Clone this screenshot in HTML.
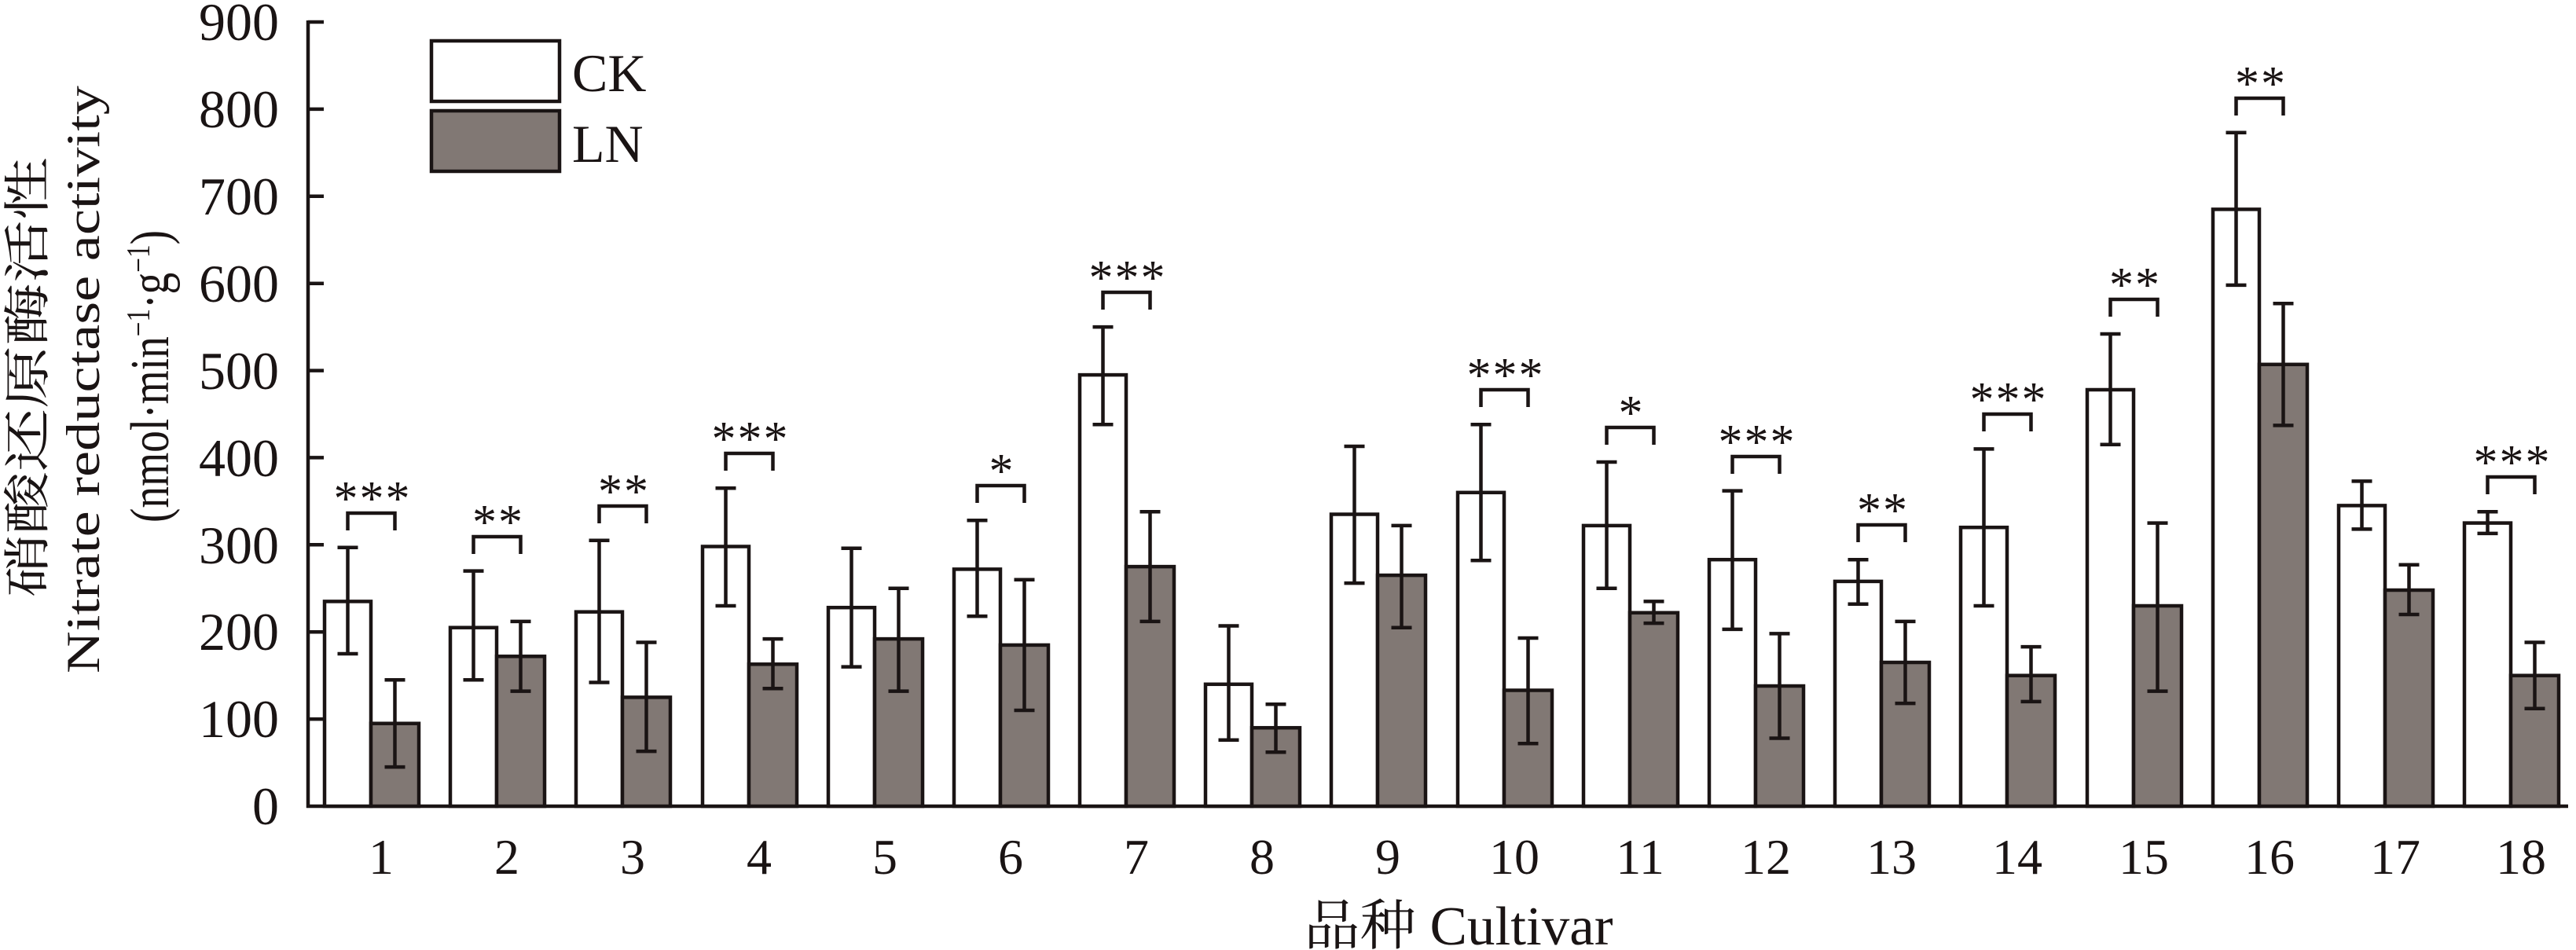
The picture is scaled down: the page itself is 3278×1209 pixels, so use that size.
<!DOCTYPE html>
<html><head><meta charset="utf-8"><style>html,body{margin:0;padding:0;background:#fff}svg{display:block}</style></head>
<body>
<svg width="3278" height="1209" viewBox="0 0 3278 1209" xmlns="http://www.w3.org/2000/svg" font-family="'Liberation Serif','Noto Serif CJK SC',serif">
<g stroke="#1a1414" stroke-width="4.5" fill="none">
<line x1="392" y1="26" x2="392" y2="1028"/>
<line x1="390" y1="1026" x2="3268" y2="1026"/>
<line x1="392" y1="28" x2="412" y2="28"/><line x1="392" y1="138.9" x2="412" y2="138.9"/><line x1="392" y1="249.8" x2="412" y2="249.8"/><line x1="392" y1="360.7" x2="412" y2="360.7"/><line x1="392" y1="471.6" x2="412" y2="471.6"/><line x1="392" y1="582.4" x2="412" y2="582.4"/><line x1="392" y1="693.3" x2="412" y2="693.3"/><line x1="392" y1="804.2" x2="412" y2="804.2"/><line x1="392" y1="915.1" x2="412" y2="915.1"/>
<rect x="549" y="52" width="163" height="77" fill="#fff"/>
<rect x="549" y="141" width="163" height="77" fill="#817874"/>
</g>
<g fill="#1a1414" font-size="68" text-anchor="end">
<text x="355" y="51">900</text><text x="355" y="162">800</text><text x="355" y="273">700</text><text x="355" y="384">600</text><text x="355" y="495">500</text><text x="355" y="606">400</text><text x="355" y="717">300</text><text x="355" y="827">200</text><text x="355" y="938">100</text><text x="355" y="1049">0</text>
</g>
<g fill="#1a1414" font-size="68">
<text x="728" y="116">CK</text><text x="728" y="206">LN</text>
</g>
<g fill="#1a1414" font-size="60" text-anchor="middle">
<text transform="translate(56,480) rotate(-90)" textLength="560" lengthAdjust="spacingAndGlyphs">硝酸还原酶活性</text>
<text transform="translate(126,483) rotate(-90)" textLength="748" lengthAdjust="spacingAndGlyphs">Nitrate reductase activity</text>
<text transform="translate(214,479) rotate(-90)" font-size="70" textLength="372" lengthAdjust="spacingAndGlyphs">(nmol·min<tspan font-size="42" dy="-24">−1</tspan><tspan dy="24">·g</tspan><tspan font-size="42" dy="-24">−1</tspan><tspan dy="24">)</tspan></text>
</g>
<text x="1856" y="1202" font-size="70" text-anchor="middle" fill="#1a1414" textLength="393" lengthAdjust="spacingAndGlyphs">品种 Cultivar</text>
<g fill="#1a1414" font-size="64" text-anchor="middle">
<text x="485" y="1112">1</text><text x="645" y="1112">2</text><text x="805" y="1112">3</text><text x="966" y="1112">4</text><text x="1126" y="1112">5</text><text x="1286" y="1112">6</text><text x="1446" y="1112">7</text><text x="1606" y="1112">8</text><text x="1766" y="1112">9</text><text x="1927" y="1112">10</text><text x="2087" y="1112">11</text><text x="2247" y="1112">12</text><text x="2407" y="1112">13</text><text x="2567" y="1112">14</text><text x="2728" y="1112">15</text><text x="2888" y="1112">16</text><text x="3048" y="1112">17</text><text x="3208" y="1112">18</text>
</g>
<g stroke="#1a1414" stroke-width="4.5">
<g fill="#fff">
<rect x="413" y="765.4" width="59" height="260.6"/>
<rect x="573" y="798.7" width="59" height="227.3"/>
<rect x="733" y="778.7" width="59" height="247.3"/>
<rect x="894" y="695.5" width="59" height="330.5"/>
<rect x="1054" y="773.2" width="59" height="252.8"/>
<rect x="1214" y="724.4" width="59" height="301.6"/>
<rect x="1374" y="477.1" width="59" height="548.9"/>
<rect x="1534" y="870.8" width="59" height="155.2"/>
<rect x="1694" y="654.5" width="59" height="371.5"/>
<rect x="1855" y="626.8" width="59" height="399.2"/>
<rect x="2015" y="668.9" width="59" height="357.1"/>
<rect x="2175" y="712.2" width="59" height="313.8"/>
<rect x="2335" y="739.9" width="59" height="286.1"/>
<rect x="2495" y="671.2" width="59" height="354.8"/>
<rect x="2656" y="496" width="59" height="530"/>
<rect x="2816" y="266.4" width="59" height="759.6"/>
<rect x="2976" y="643.4" width="59" height="382.6"/>
<rect x="3136" y="665.6" width="59" height="360.4"/>
</g>
<g fill="#817874">
<rect x="472" y="920.7" width="61" height="105.3"/>
<rect x="632" y="835.3" width="61" height="190.7"/>
<rect x="792" y="887.4" width="61" height="138.6"/>
<rect x="953" y="845.3" width="61" height="180.7"/>
<rect x="1113" y="813.1" width="61" height="212.9"/>
<rect x="1273" y="820.9" width="61" height="205.1"/>
<rect x="1433" y="721.1" width="61" height="304.9"/>
<rect x="1593" y="926.2" width="61" height="99.8"/>
<rect x="1753" y="732.1" width="61" height="293.9"/>
<rect x="1914" y="878.5" width="61" height="147.5"/>
<rect x="2074" y="779.8" width="61" height="246.2"/>
<rect x="2234" y="873" width="61" height="153"/>
<rect x="2394" y="843" width="61" height="183"/>
<rect x="2554" y="859.7" width="61" height="166.3"/>
<rect x="2715" y="771" width="61" height="255"/>
<rect x="2875" y="463.8" width="61" height="562.2"/>
<rect x="3035" y="751" width="61" height="275"/>
<rect x="3195" y="859.7" width="61" height="166.3"/>
</g>
</g>
<g stroke="#1a1414" stroke-width="4.5" fill="none">
<path d="M442.5 832V696.7M429.5 832h26M429.5 696.7h26 M502.5 976.1V865.2M489.5 976.1h26M489.5 865.2h26"/>
<path d="M602.5 865.2V726.6M589.5 865.2h26M589.5 726.6h26 M662.5 879.6V790.9M649.5 879.6h26M649.5 790.9h26"/>
<path d="M762.5 868.5V687.8M749.5 868.5h26M749.5 687.8h26 M822.5 956.1V817.5M809.5 956.1h26M809.5 817.5h26"/>
<path d="M923.5 771V621.3M910.5 771h26M910.5 621.3h26 M983.5 876.3V813.1M970.5 876.3h26M970.5 813.1h26"/>
<path d="M1083.5 848.6V697.8M1070.5 848.6h26M1070.5 697.8h26 M1143.5 879.6V748.8M1130.5 879.6h26M1130.5 748.8h26"/>
<path d="M1243.5 784.3V662.3M1230.5 784.3h26M1230.5 662.3h26 M1303.5 904V737.7M1290.5 904h26M1290.5 737.7h26"/>
<path d="M1403.5 540.3V416.1M1390.5 540.3h26M1390.5 416.1h26 M1463.5 790.9V651.2M1450.5 790.9h26M1450.5 651.2h26"/>
<path d="M1563.5 941.7V796.5M1550.5 941.7h26M1550.5 796.5h26 M1623.5 957.2V896.3M1610.5 957.2h26M1610.5 896.3h26"/>
<path d="M1723.5 742.1V568M1710.5 742.1h26M1710.5 568h26 M1783.5 798.7V668.9M1770.5 798.7h26M1770.5 668.9h26"/>
<path d="M1884.5 713.3V540.3M1871.5 713.3h26M1871.5 540.3h26 M1944.5 946.2V812M1931.5 946.2h26M1931.5 812h26"/>
<path d="M2044.5 748.8V588M2031.5 748.8h26M2031.5 588h26 M2104.5 793.1V765.4M2091.5 793.1h26M2091.5 765.4h26"/>
<path d="M2204.5 800.9V624.6M2191.5 800.9h26M2191.5 624.6h26 M2264.5 939.5V806.4M2251.5 939.5h26M2251.5 806.4h26"/>
<path d="M2364.5 768.7V712.2M2351.5 768.7h26M2351.5 712.2h26 M2424.5 895.1V790.9M2411.5 895.1h26M2411.5 790.9h26"/>
<path d="M2524.5 771V571.4M2511.5 771h26M2511.5 571.4h26 M2584.5 892.9V823.1M2571.5 892.9h26M2571.5 823.1h26"/>
<path d="M2685.5 565.8V425M2672.5 565.8h26M2672.5 425h26 M2745.5 879.6V665.6M2732.5 879.6h26M2732.5 665.6h26"/>
<path d="M2845.5 362.9V168.8M2832.5 362.9h26M2832.5 168.8h26 M2905.5 541.4V386.2M2892.5 541.4h26M2892.5 386.2h26"/>
<path d="M3005.5 673.4V612.4M2992.5 673.4h26M2992.5 612.4h26 M3065.5 782V718.8M3052.5 782h26M3052.5 718.8h26"/>
<path d="M3165.5 678.9V651.2M3152.5 678.9h26M3152.5 651.2h26 M3225.5 901.8V817.5M3212.5 901.8h26M3212.5 817.5h26"/>
<path d="M442.5 675V653H502.5V675"/>
<path d="M602.5 705V683H662.5V705"/>
<path d="M762.5 666V644H822.5V666"/>
<path d="M923.5 599V577H983.5V599"/>
<path d="M1243.5 640V618H1303.5V640"/>
<path d="M1403.5 394V372H1463.5V394"/>
<path d="M1884.5 518V496H1944.5V518"/>
<path d="M2044.5 566V544H2104.5V566"/>
<path d="M2204.5 603V581H2264.5V603"/>
<path d="M2364.5 690V668H2424.5V690"/>
<path d="M2524.5 549V527H2584.5V549"/>
<path d="M2685.5 403V381H2745.5V403"/>
<path d="M2845.5 147V125H2905.5V147"/>
<path d="M3165.5 629V607H3225.5V629"/>
</g>
<g fill="#1a1414" font-size="62" text-anchor="middle" letter-spacing="2">
<text x="474" y="655">***</text>
<text x="634" y="685">**</text>
<text x="794" y="646">**</text>
<text x="955" y="579">***</text>
<text x="1275" y="620">*</text>
<text x="1435" y="374">***</text>
<text x="1916" y="498">***</text>
<text x="2076" y="546">*</text>
<text x="2236" y="583">***</text>
<text x="2396" y="670">**</text>
<text x="2556" y="529">***</text>
<text x="2717" y="383">**</text>
<text x="2877" y="127">**</text>
<text x="3197" y="609">***</text>
</g>
</svg>
</body></html>
